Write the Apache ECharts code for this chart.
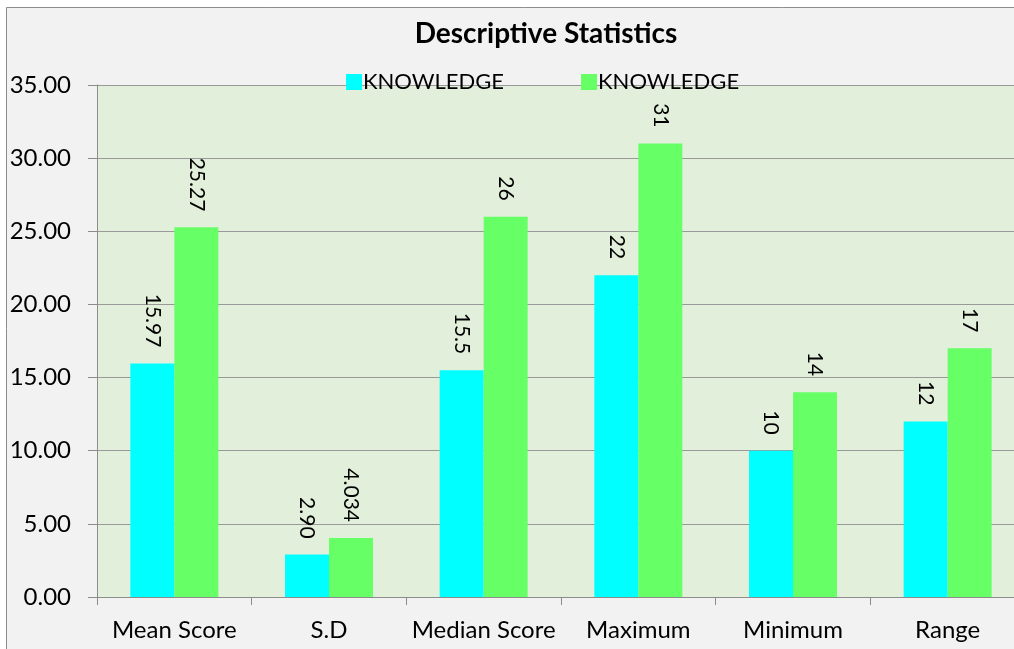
<!DOCTYPE html>
<html>
<head>
<meta charset="utf-8">
<script src="https://cdn.jsdelivr.net/npm/echarts@6/dist/echarts.min.js"></script>
<style>
  html, body { margin: 0; padding: 0; background: #ffffff; overflow: hidden; }
  #chart { width: 1040px; height: 649px; }
</style>
</head>
<body>
<div id="chart"></div>
<script>
// Descriptive statistics of knowledge scores (two groups)
const categories = ['Mean Score', 'S.D', 'Median Score', 'Maximum', 'Minimum', 'Range'];
const seriesNames = ['KNOWLEDGE', 'KNOWLEDGE'];
// values kept as their printed form so each label shows exactly the bar's value
const groupA = ['15.97', '2.90', '15.5', '22', '10', '12'];
const groupB = ['25.27', '4.034', '26', '31', '14', '17'];
const yTicks = [0, 5, 10, 15, 20, 25, 30, 35];

const FONT = 'Lato, "Open Sans", sans-serif';

const chart = echarts.init(document.getElementById('chart'), null, { renderer: 'canvas' });

function barSeries(name, values, color) {
  return {
    name: name,
    type: 'bar',
    data: values.map(v => ({ value: Number(v), label: { formatter: v } })),
    barWidth: 44,
    barGap: '0%',
    itemStyle: { color: color },
    label: {
      show: true,
      position: 'top',
      rotate: -90,
      align: 'right',
      verticalAlign: 'middle',
      distance: 16,
      color: '#000',
      fontFamily: FONT,
      fontSize: 21
    }
  };
}

chart.setOption({
  backgroundColor: '#ffffff',
  animation: false,
  graphic: [{
    type: 'rect',
    z: -10,
    shape: { x: 6.5, y: 7.5, width: 1100, height: 700 },
    style: { fill: '#f2f2f2', stroke: '#8c8c8c', lineWidth: 1 }
  }],
  title: {
    text: 'Descriptive Statistics',
    left: 541,
    top: 15,
    textAlign: 'center',
    textStyle: { fontFamily: FONT, fontSize: 28, fontWeight: 'bold', color: '#000' }
  },
  legend: {
    top: 66,
    left: 341,
    itemWidth: 16,
    itemHeight: 16,
    itemGap: 77,
    icon: 'rect',
    textStyle: { fontFamily: FONT, fontSize: 22, color: '#000', padding: [0, 0, 0, -4] },
    data: [
      { name: seriesNames[0], itemStyle: { color: '#00ffff' } },
      { name: seriesNames[1] + ' ', itemStyle: { color: '#66ff66' } }
    ]
  },
  grid: {
    left: 97,
    right: 15,
    top: 85,
    bottom: 52,
    show: true,
    backgroundColor: '#e2efda',
    borderWidth: 0,
    containLabel: false
  },
  xAxis: {
    type: 'category',
    data: categories,
    axisLine: { show: true, lineStyle: { color: '#8c8c8c', width: 1 } },
    axisTick: { show: true, length: 8, lineStyle: { color: '#8c8c8c' } },
    axisLabel: { interval: 0, fontFamily: FONT, fontSize: 24, color: '#000', margin: 21 }
  },
  yAxis: {
    type: 'value',
    min: yTicks[0],
    max: yTicks[yTicks.length - 1],
    interval: yTicks[1] - yTicks[0],
    axisLine: { show: true, lineStyle: { color: '#8c8c8c', width: 1 } },
    axisTick: { show: true, length: 9, lineStyle: { color: '#8c8c8c' } },
    axisLabel: {
      fontFamily: FONT, fontSize: 24, color: '#000', margin: 26,
      formatter: v => v.toFixed(2)
    },
    splitLine: { show: true, lineStyle: { color: '#999999', width: 1 } }
  },
  series: [
    barSeries(seriesNames[0], groupA, '#00ffff'),
    barSeries(seriesNames[1] + ' ', groupB, '#66ff66')
  ]
});
</script>
</body>
</html>
